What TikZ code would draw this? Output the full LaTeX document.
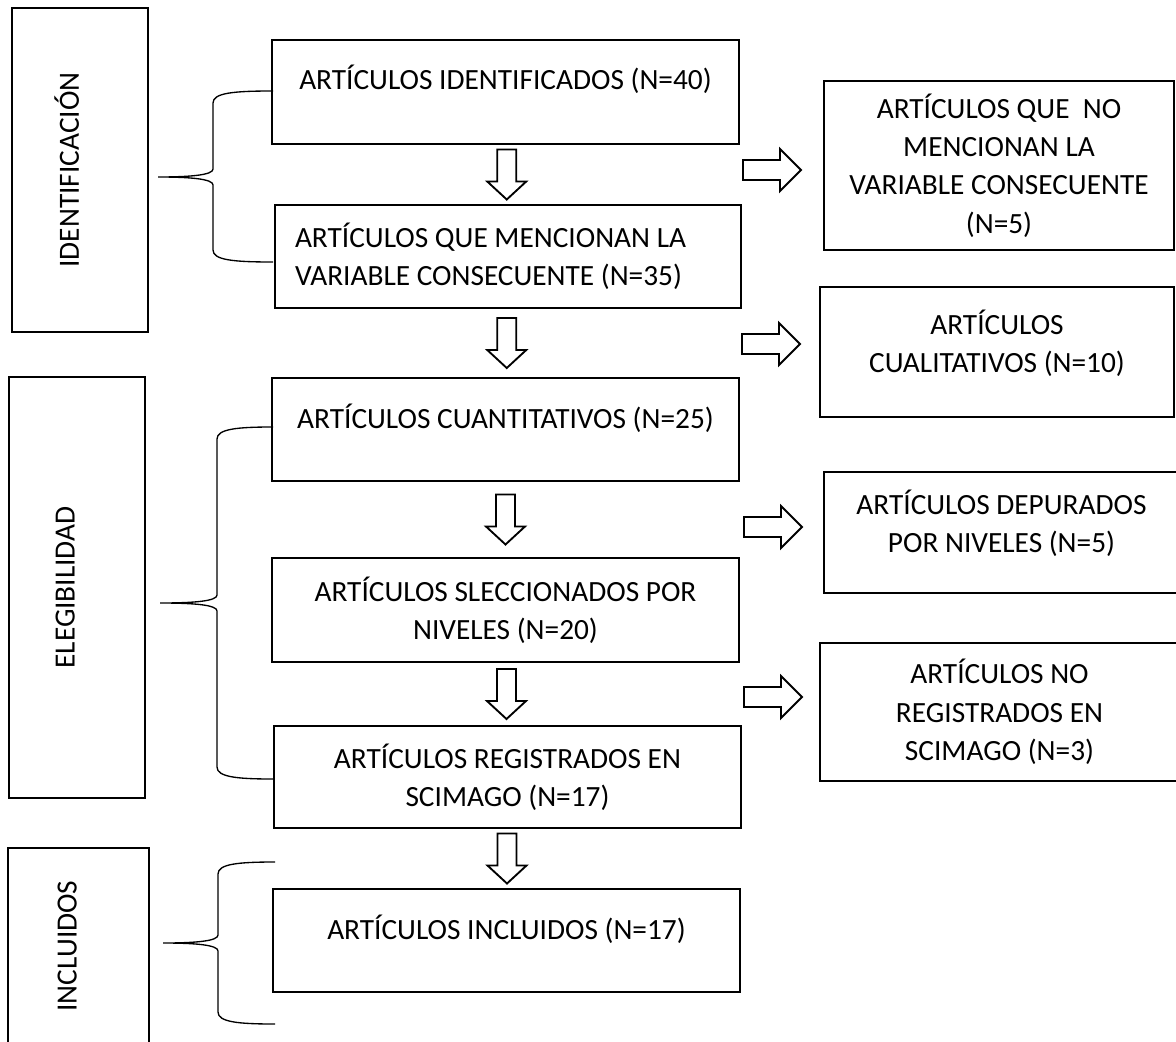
\documentclass[tikz,border=0pt]{standalone}
\usepackage{fontspec}
\setmainfont{Carlito}
\usepackage{tikz}
\usetikzlibrary{calc}
\newcommand{\unit}{0.75pt}
\tikzstyle{flowBox} = [draw, line width=2pt, inner sep=0pt, align=center, font=\fontsize{22}{28.75}\selectfont]
\tikzstyle{stageBox} = [flowBox, rotate=90]
\tikzstyle{blockArrow} = [draw, line width=1.4pt, fill=white, line join=miter]
\tikzstyle{braceLine} = [draw, line width=1pt]
\newcommand{\dropStrut}[1]{\rule[-#1]{0pt}{#1}}
\newcommand{\downBlock}[2]{\draw [blockArrow] ($(#1.south)!0.5!(#2.north)+(-9.5,-25)$) -- ++(19,0) -- ++(0,32) -- ++(10,0) -- ++(-19.5,18) -- ++(-19.5,-18) -- ++(10,0) -- cycle;}
\newcommand{\rightBlock}[2]{\draw [blockArrow] (#1,#2-10) -- ++(37,0) -- ++(0,-11) -- ++(21,21) -- ++(-21,21) -- ++(0,-11) -- ++(-37,0) -- cycle;}
\newcommand{\sideBrace}[6]{\draw [braceLine] (#1,#4) .. controls (#2+20,#4) and (#2,#4+2) .. (#2,#4+12) -- (#2,#5-8) .. controls (#2,#5-2) and (#2-22,#5) .. (#3,#5) .. controls (#2-22,#5) and (#2,#5+2) .. (#2,#5+8) -- (#2,#6-12) .. controls (#2,#6-2) and (#2+20,#6) .. (#1,#6);}

\begin{document}
\begin{tikzpicture}[x=\unit, y=-\unit]
    \useasboundingbox (0,0) rectangle (1176,1041);
    \clip (0,0) rectangle (1176,1041);
    \node [stageBox, minimum width=324*\unit, minimum height=136*\unit] (identificacion) at (80,170) {IDENTIFICACIÓN\dropStrut{20pt}};
    \node [stageBox, minimum width=421*\unit, minimum height=136*\unit] (elegibilidad) at (77,587.5) {ELEGIBILIDAD\dropStrut{18pt}};
    \node [stageBox, minimum width=196*\unit, minimum height=141*\unit] (incluidosStage) at (78.5,946) {INCLUIDOS\dropStrut{17pt}};
    \node [flowBox, minimum width=467*\unit, minimum height=104*\unit] (identificados) at (505.5,92) {ARTÍCULOS IDENTIFICADOS (N=40)\dropStrut{22pt}};
    \node [flowBox, align=flush left, text width=426*\unit, minimum width=466*\unit, minimum height=103*\unit] (mencionan) at (508,256.5) {ARTÍCULOS QUE MENCIONAN LA\\VARIABLE CONSECUENTE (N=35)};
    \node [flowBox, minimum width=467*\unit, minimum height=103*\unit] (cuantitativos) at (505.5,429.5) {ARTÍCULOS CUANTITATIVOS (N=25)\dropStrut{19.5pt}};
    \node [flowBox, minimum width=467*\unit, minimum height=104*\unit] (seleccionados) at (505.5,610) {ARTÍCULOS SLECCIONADOS POR\\NIVELES (N=20)};
    \node [flowBox, minimum width=467*\unit, minimum height=102*\unit] (registrados) at (507.5,777) {ARTÍCULOS REGISTRADOS EN\\SCIMAGO (N=17)};
    \node [flowBox, minimum width=467*\unit, minimum height=103*\unit] (incluidos) at (506.5,940.5) {ARTÍCULOS INCLUIDOS (N=17)\dropStrut{19.5pt}};
    \node [flowBox, minimum width=350*\unit, minimum height=169*\unit] (noMencionan) at (999,165.5) {ARTÍCULOS QUE~~NO\\MENCIONAN LA\\VARIABLE CONSECUENTE\\(N=5)};
    \node [flowBox, minimum width=354*\unit, minimum height=130*\unit] (cualitativos) at (997,352) {ARTÍCULOS\\CUALITATIVOS (N=10)\dropStrut{16.5pt}};
    \node [flowBox, minimum width=355*\unit, minimum height=121*\unit] (depurados) at (1001.5,532.5) {ARTÍCULOS DEPURADOS\\POR NIVELES (N=5)\dropStrut{17pt}};
    \node [flowBox, minimum width=359*\unit, minimum height=138*\unit] (noRegistrados) at (999.5,712) {ARTÍCULOS NO\\REGISTRADOS EN\\SCIMAGO (N=3)};
    \downBlock{identificados}{mencionan}
    \downBlock{mencionan}{cuantitativos}
    \downBlock{cuantitativos}{seleccionados}
    \downBlock{seleccionados}{registrados}
    \downBlock{registrados}{incluidos}
    \rightBlock{743}{170}
    \rightBlock{742}{344}
    \rightBlock{744}{527}
    \rightBlock{744}{697}
    \sideBrace{273}{213}{158}{91}{177}{262}
    \sideBrace{273}{217}{160}{427}{603}{779}
    \sideBrace{275}{218}{163}{862}{943}{1024}
\end{tikzpicture}
\end{document}
